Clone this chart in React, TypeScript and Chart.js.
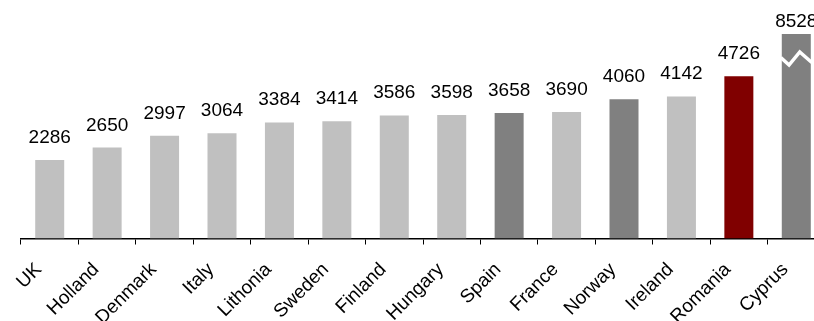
import React, { useEffect, useRef } from "react";
import { Chart, registerables } from "chart.js";

Chart.register(...registerables);

const categories = [
  "UK", "Holland", "Denmark", "Italy", "Lithonia", "Sweden", "Finland",
  "Hungary", "Spain", "France", "Norway", "Ireland", "Romania", "Cyprus",
];
const values = [2286, 2650, 2997, 3064, 3384, 3414, 3586, 3598, 3658, 3690, 4060, 4142, 4726, 8528];
// Axis is broken: bars above this value are cut at the top
const axisMax = 5960;

const LIGHT = "#C0C0C0";
const DARK = "#808080";
const RED = "#800000";
const darkCategories = ["Spain", "Norway", "Cyprus"];
const redCategories = ["Romania"];
const barColors = categories.map((c) =>
  redCategories.includes(c) ? RED : darkCategories.includes(c) ? DARK : LIGHT
);

const FONT = "'Liberation Sans', Arial, sans-serif";

const labelPlugin = {
  id: "valueLabels",
  afterDatasetsDraw(chart: any) {
    const { ctx, chartArea } = chart;
    const meta = chart.getDatasetMeta(0);
    const yScale = chart.scales.y;
    ctx.save();
    meta.data.forEach((el: any, i: number) => {
      const v = values[i];
      const broken = v > yScale.max;
      if (broken) {
        const w = el.width;
        const x0 = el.x - w / 2;
        const t = chartArea.top;
        ctx.save();
        ctx.strokeStyle = "#FFFFFF";
        ctx.lineWidth = 3.5;
        ctx.lineJoin = "miter";
        ctx.beginPath();
        ctx.moveTo(x0 - 1, t + 23.5);
        ctx.lineTo(x0 + 0.25 * w, t + 31);
        ctx.lineTo(x0 + 0.62 * w, t + 18);
        ctx.lineTo(x0 + w + 1, t + 28.5);
        ctx.stroke();
        ctx.restore();
      }
      ctx.fillStyle = "#000";
      ctx.font = `19px ${FONT}`;
      ctx.textAlign = "center";
      ctx.textBaseline = "alphabetic";
      const y = broken ? chartArea.top - 7 : el.y - 17;
      ctx.fillText(String(v), el.x, y);
    });
    ctx.restore();
  },
};

export default function App() {
  const ref = useRef<HTMLCanvasElement>(null);
  useEffect(() => {
    if (!ref.current) return;
    const chart = new Chart(ref.current, {
      type: "bar",
      data: {
        labels: categories,
        datasets: [
          {
            data: values,
            backgroundColor: barColors,
            borderWidth: 0,
            barPercentage: 0.505,
            categoryPercentage: 1,
            clip: 0,
          },
        ],
      },
      options: {
        animation: false,
        responsive: false,
        devicePixelRatio: 1,
        layout: { padding: { left: 21, right: 5, top: 34, bottom: 0 } },
        plugins: { legend: { display: false }, tooltip: { enabled: false } },
        scales: {
          x: {
            offset: true,
            grid: {
              display: true,
              offset: true,
              drawOnChartArea: false,
              drawTicks: true,
              tickLength: 6,
              color: "#000",
              lineWidth: 1,
            },
            border: { display: true, color: "#000", width: 1.5 },
            ticks: {
              autoSkip: false,
              minRotation: 45,
              maxRotation: 45,
              color: "#000",
              padding: 14,
              labelOffset: -11,
              font: { family: FONT, size: 19 },
            },
            afterFit: (scale: any) => {
              scale.height = 82.5;
              scale.paddingLeft = 0;
              scale.paddingRight = 0;
            },
          },
          y: {
            display: false,
            min: 0,
            max: axisMax,
          },
        },
      },
      plugins: [labelPlugin],
    });
    return () => chart.destroy();
  }, []);
  return (
    <div
      style={{
        position: "absolute",
        left: 0,
        top: 0,
        width: 814,
        height: 321,
        overflow: "hidden",
        background: "#fff",
      }}
    >
      <canvas ref={ref} width={830} height={321} style={{ width: 830, height: 321, display: "block" }} />
    </div>
  );
}
